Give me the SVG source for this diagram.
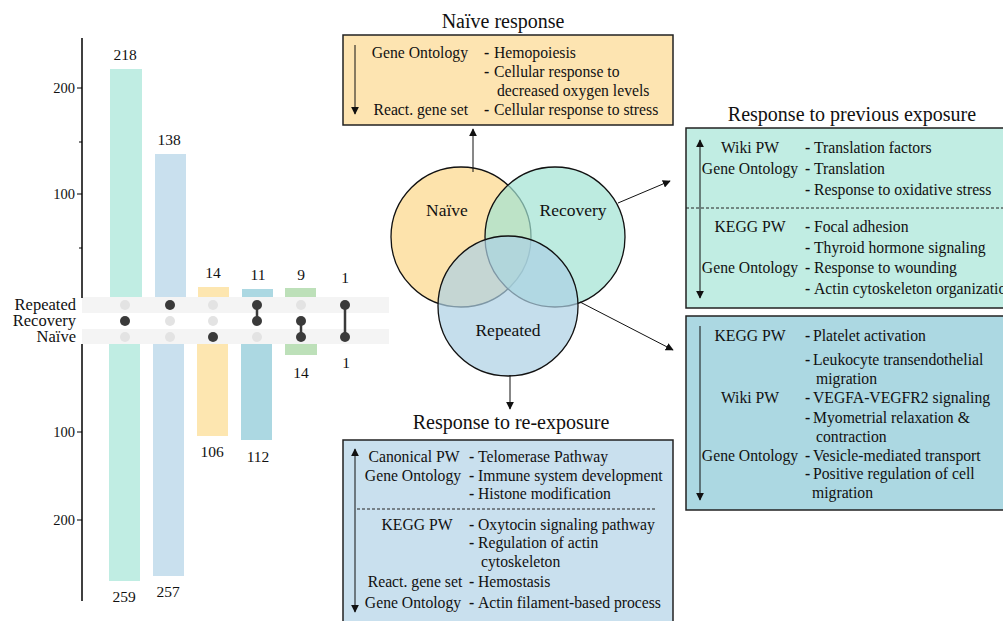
<svg xmlns="http://www.w3.org/2000/svg" width="1003" height="621" viewBox="0 0 1003 621">
<style>
text{font-family:"Liberation Serif","Times New Roman",serif;fill:#111}
.ax{stroke:#000;stroke-width:1.5;fill:none}
.tk{font-size:14.5px;text-anchor:end}
.num{font-size:15.5px;text-anchor:middle}
.row{font-size:16.5px;text-anchor:end}
.lb{font-size:15.7px}
.c{text-anchor:middle}
.e{text-anchor:end}
.b{font-weight:bold}
.ttl{font-size:20px;text-anchor:middle}
.box{stroke:#222;stroke-width:1.5}
.dash{stroke:#222;stroke-width:1;stroke-dasharray:3 2}
.con{stroke:#111;stroke-width:1;fill:none}
.dk{fill:#3a3a3a}
.lt{fill:#e3e3e3}
.venn{stroke:#111;stroke-width:1.3}
.vt{font-size:17.5px;text-anchor:middle}
</style>
<defs>
<marker id="ah" viewBox="0 0 10 10" refX="9" refY="5" markerWidth="8" markerHeight="8" orient="auto-start-reverse"><path d="M0,0 L10,5 L0,10 z" fill="#111"/></marker>
</defs>

<g id="upset">
<rect x="110" y="69" width="32" height="229" fill="#c0ede3"/>
<rect x="155" y="154" width="31" height="144" fill="#c9e0ee"/>
<rect x="198" y="287" width="31" height="11" fill="#fde6b0"/>
<rect x="242" y="289" width="31" height="9" fill="#acd8e2"/>
<rect x="285" y="288" width="31" height="10" fill="#bde0b9"/>
<rect x="109" y="344" width="31" height="237" fill="#c0ede3"/>
<rect x="153" y="344" width="31" height="232" fill="#c9e0ee"/>
<rect x="197" y="344" width="31" height="92" fill="#fde6b0"/>
<rect x="241" y="344" width="31" height="96" fill="#acd8e2"/>
<rect x="285" y="344" width="32" height="11" fill="#bde0b9"/>
<rect x="82" y="297" width="307" height="16" fill="#f4f4f4"/>
<rect x="82" y="329" width="307" height="15" fill="#f4f4f4"/>
<line class="ax" x1="82" y1="38" x2="82" y2="298"/>
<line class="ax" x1="82" y1="344" x2="82" y2="601"/>
<g stroke="#000" stroke-width="1">
<line x1="77" y1="88" x2="82" y2="88"/><line x1="79" y1="142" x2="82" y2="142"/>
<line x1="77" y1="194" x2="82" y2="194"/><line x1="79" y1="248" x2="82" y2="248"/>
<line x1="77" y1="432" x2="82" y2="432"/><line x1="77" y1="520" x2="82" y2="520"/>
</g>
<text class="tk" x="75" y="93">200</text>
<text class="tk" x="75" y="199">100</text>
<text class="tk" x="75" y="437">100</text>
<text class="tk" x="75" y="525">200</text>
<text class="num" x="125" y="60">218</text>
<text class="num" x="169" y="145">138</text>
<text class="num" x="213" y="278">14</text>
<text class="num" x="258" y="280">11</text>
<text class="num" x="301" y="280">9</text>
<text class="num" x="345" y="283">1</text>
<text class="num" x="124" y="602">259</text>
<text class="num" x="168" y="597">257</text>
<text class="num" x="212" y="457">106</text>
<text class="num" x="258" y="462">112</text>
<text class="num" x="301" y="378">14</text>
<text class="num" x="346" y="368">1</text>
<text class="row" x="76" y="310">Repeated</text>
<text class="row" x="76" y="326">Recovery</text>
<text class="row" x="76" y="342">Naïve</text>
<g>
<circle class="lt" cx="125" cy="305" r="5"/><circle class="dk" cx="125" cy="321" r="5"/><circle class="lt" cx="125" cy="337" r="5"/>
<circle class="dk" cx="170" cy="305" r="5"/><circle class="lt" cx="170" cy="321" r="5"/><circle class="lt" cx="170" cy="337" r="5"/>
<circle class="lt" cx="213" cy="305" r="5"/><circle class="lt" cx="213" cy="321" r="5"/><circle class="dk" cx="213" cy="337" r="5"/>
<line x1="257" y1="305" x2="257" y2="321" stroke="#3a3a3a" stroke-width="2.5"/>
<circle class="dk" cx="257" cy="305" r="5"/><circle class="dk" cx="257" cy="321" r="5"/><circle class="lt" cx="257" cy="337" r="5"/>
<line x1="301" y1="321" x2="301" y2="337" stroke="#3a3a3a" stroke-width="2.5"/>
<circle class="lt" cx="301" cy="305" r="5"/><circle class="dk" cx="301" cy="321" r="5"/><circle class="dk" cx="301" cy="337" r="5"/>
<line x1="345" y1="305" x2="345" y2="337" stroke="#3a3a3a" stroke-width="2.5"/>
<circle class="dk" cx="345" cy="305" r="5"/><circle class="dk" cx="345" cy="337" r="5"/>
</g>
</g>

<g id="venn">
<circle class="venn" cx="461" cy="237" r="70" fill="rgb(252,215,137)" fill-opacity="0.7"/>
<circle class="venn" cx="555" cy="237" r="70" fill="rgb(161,226,211)" fill-opacity="0.7"/>
<circle class="venn" cx="508" cy="306" r="70" fill="rgb(172,208,228)" fill-opacity="0.7"/>
<text class="vt" x="447" y="216">Naïve</text>
<text class="vt" x="573" y="216">Recovery</text>
<text class="vt" x="508" y="336">Repeated</text>
</g>

<g id="connectors">
<line class="con" x1="473" y1="172" x2="473" y2="129" marker-end="url(#ah)"/>
<line class="con" x1="618" y1="203" x2="670" y2="181" marker-end="url(#ah)"/>
<line class="con" x1="580" y1="302" x2="673" y2="350" marker-end="url(#ah)"/>
<line class="con" x1="510" y1="375" x2="510" y2="409" marker-end="url(#ah)"/>
</g>

<g id="naive-response">
<text class="ttl" x="503" y="28">Naïve response</text>
<rect class="box" x="343" y="35" width="330" height="90" fill="#fde4b1"/>
<line class="con" x1="355" y1="45" x2="355" y2="114" marker-end="url(#ah)"/>
<g class="lb">
<text class="e" x="468" y="58">Gene Ontology</text>
<text x="484" y="58"><tspan class="b">-</tspan><tspan x="494">Hemopoiesis</tspan></text>
<text x="484" y="77"><tspan class="b">-</tspan><tspan x="494">Cellular response to</tspan></text>
<text x="497" y="96">decreased oxygen levels</text>
<text class="e" x="468" y="115">React. gene set</text>
<text x="484" y="115"><tspan class="b">-</tspan><tspan x="494">Cellular response to stress</tspan></text>
</g>
</g>

<g id="previous-exposure">
<text class="ttl" x="852" y="121">Response to previous exposure</text>
<rect class="box" x="686" y="128" width="330" height="180" fill="#c1ede3"/>
<line class="con" x1="700" y1="140" x2="700" y2="298" marker-start="url(#ah)" marker-end="url(#ah)"/>
<line class="dash" x1="686" y1="208" x2="1003" y2="208"/>
<g class="lb">
<text class="c" x="750" y="153">Wiki PW</text>
<text x="805" y="153"><tspan class="b">-</tspan><tspan x="814">Translation factors</tspan></text>
<text class="c" x="750" y="174">Gene Ontology</text>
<text x="805" y="174"><tspan class="b">-</tspan><tspan x="814">Translation</tspan></text>
<text x="805" y="195"><tspan class="b">-</tspan><tspan x="814">Response to oxidative stress</tspan></text>
<text class="c" x="750" y="232">KEGG PW</text>
<text x="805" y="232"><tspan class="b">-</tspan><tspan x="814">Focal adhesion</tspan></text>
<text x="805" y="253"><tspan class="b">-</tspan><tspan x="814">Thyroid hormone signaling</tspan></text>
<text class="c" x="750" y="273">Gene Ontology</text>
<text x="805" y="273"><tspan class="b">-</tspan><tspan x="814">Response to wounding</tspan></text>
<text x="805" y="294"><tspan class="b">-</tspan><tspan x="814">Actin cytoskeleton organization</tspan></text>
</g>
</g>

<g id="repeated-recovery">
<rect class="box" x="686" y="316" width="330" height="194" fill="#acd8e2"/>
<line class="con" x1="700" y1="326" x2="700" y2="500" marker-end="url(#ah)"/>
<g class="lb">
<text class="c" x="750" y="341">KEGG PW</text>
<text x="805" y="341"><tspan class="b">-</tspan><tspan x="813">Platelet activation</tspan></text>
<text x="805" y="365"><tspan class="b">-</tspan><tspan x="813">Leukocyte transendothelial</tspan></text>
<text x="816" y="384">migration</text>
<text class="c" x="750" y="403">Wiki PW</text>
<text x="805" y="403"><tspan class="b">-</tspan><tspan x="813">VEGFA-VEGFR2 signaling</tspan></text>
<text x="805" y="423"><tspan class="b">-</tspan><tspan x="813">Myometrial relaxation &amp;</tspan></text>
<text x="816" y="442">contraction</text>
<text class="c" x="750" y="461">Gene Ontology</text>
<text x="805" y="461"><tspan class="b">-</tspan><tspan x="813">Vesicle-mediated transport</tspan></text>
<text x="805" y="479"><tspan class="b">-</tspan><tspan x="813">Positive regulation of cell</tspan></text>
<text x="812" y="498">migration</text>
</g>
</g>

<g id="re-exposure">
<text class="ttl" x="511" y="429">Response to re-exposure</text>
<rect class="box" x="343" y="440" width="330" height="190" fill="#c9e0ee"/>
<line class="con" x1="355" y1="449" x2="355" y2="612" marker-start="url(#ah)" marker-end="url(#ah)"/>
<line class="dash" x1="357" y1="509" x2="655" y2="509"/>
<g class="lb">
<text class="c" x="414" y="462">Canonical PW</text>
<text x="469" y="462"><tspan class="b">-</tspan><tspan x="478">Telomerase Pathway</tspan></text>
<text class="c" x="413" y="481">Gene Ontology</text>
<text x="469" y="481"><tspan class="b">-</tspan><tspan x="478">Immune system development</tspan></text>
<text x="469" y="499"><tspan class="b">-</tspan><tspan x="478">Histone modification</tspan></text>
<text class="c" x="417" y="530">KEGG  PW</text>
<text x="469" y="530"><tspan class="b">-</tspan><tspan x="478">Oxytocin signaling pathway</tspan></text>
<text x="469" y="548"><tspan class="b">-</tspan><tspan x="478">Regulation of actin</tspan></text>
<text x="481" y="567">cytoskeleton</text>
<text class="c" x="415" y="587">React. gene set</text>
<text x="469" y="587"><tspan class="b">-</tspan><tspan x="478">Hemostasis</tspan></text>
<text class="c" x="413" y="608">Gene Ontology</text>
<text x="469" y="608"><tspan class="b">-</tspan><tspan x="478">Actin filament-based process</tspan></text>
</g>
</g>
</svg>
